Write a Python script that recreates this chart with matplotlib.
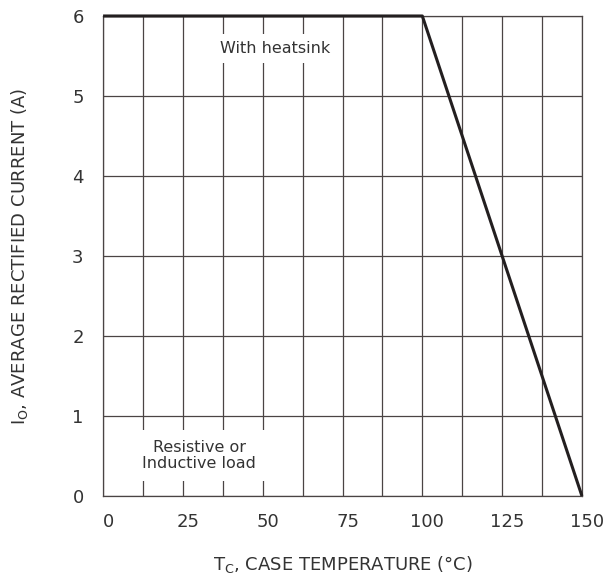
import matplotlib
matplotlib.use("Agg")
import matplotlib.pyplot as plt
import matplotlib.transforms as mtransforms
import numpy as np

plt.rcParams.update({"font.family": ["DejaVu Sans"], "font.size": 13,
                     "mathtext.default": "regular"})

# derating curve
temp_c = [0, 100, 150]
current_a = [6, 6, 0]
xticks = [0, 25, 50, 75, 100, 125, 150]
yticks = [0, 1, 2, 3, 4, 5, 6]

GRID = "#4a4444"
TXT = "#333333"

fig = plt.figure(figsize=(6.1, 5.77), dpi=100)
ax = fig.add_axes([0.169, 0.1404, 0.785, 0.8319])
ax.set_xlim(0, 150); ax.set_ylim(0, 6)
ax.set_xticks(xticks); ax.set_yticks(yticks)
ax.set_xticks(np.arange(0, 151, 12.5), minor=True)
ax.grid(True, which="both", color=GRID, linewidth=0.9)
ax.set_axisbelow(True)
ax.tick_params(which="both", length=0, colors=TXT, labelsize=13)
ax.tick_params(axis="x", pad=12)
ax.tick_params(axis="y", pad=14)
shift = mtransforms.ScaledTranslation(5/100, 0, fig.dpi_scale_trans)
for lab in ax.get_xticklabels():
    lab.set_transform(lab.get_transform() + shift)
for s in ax.spines.values():
    s.set_color(GRID); s.set_linewidth(0.9)

ax.plot(temp_c, current_a, color="#231f20", linewidth=2.2, solid_capstyle="butt", zorder=4, clip_on=False)

ax.text(54, 5.59, "With heatsink", ha="center", va="center", fontsize=11.5, color=TXT,
        bbox=dict(facecolor="white", edgecolor="none", pad=5), zorder=3)
ax.text(30.1, 0.51, "Resistive or\nInductive load", ha="center", va="center", fontsize=11.5,
        color=TXT, bbox=dict(facecolor="white", edgecolor="none", pad=7), zorder=3, linespacing=1.1)

ax.set_xlabel("T$_C$, CASE TEMPERATURE (°C)", color=TXT, fontsize=13, labelpad=17)
ax.set_ylabel("I$_O$, AVERAGE RECTIFIED CURRENT (A)", color=TXT, fontsize=13, labelpad=30)

fig.savefig("out.png", facecolor="white")
